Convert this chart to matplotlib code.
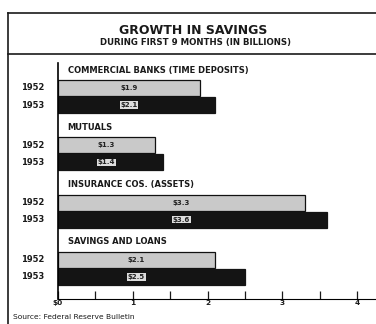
import matplotlib.pyplot as plt
from matplotlib.lines import Line2D
import numpy as np

# --------------------------------------------------------------------------------------------------
# Data (billions of dollars)
categories = ['COMMERCIAL BANKS (TIME DEPOSITS)', 'MUTUALS',
              'INSURANCE COS. (ASSETS)', 'SAVINGS AND LOANS']
years = ['1952', '1953']
savings_1952 = [1.9, 1.3, 3.3, 2.1]
savings_1953 = [2.1, 1.4, 3.6, 2.5]
labels_1952 = ['$1.9', '$1.3', '$3.3', '$2.1']
labels_1953 = ['$2.1', '$1.4', '$3.6', '$2.5']
xtick_values = [0, 1, 2, 3, 4]
xtick_labels = ['$0', '1', '2', '3', '4']

# --------------------------------------------------------------------------------------------------
W, H = 376, 324
fig = plt.figure(figsize=(W / 100, H / 100), dpi=100)
fig.patch.set_facecolor('white')

def fx(px):
    return px / W

def fy(py):
    return 1 - py / H

# Axes spans pixel x 58..376, y 60..300 ; y data in pixel units
x0, x1 = 58, 376
y_top, y_bot = 60, 299
ax = fig.add_axes([fx(x0), fy(y_bot), fx(x1 - x0), (y_bot - y_top) / H])
ax.set_xlim(0, (x1 - x0) / 74.8)
ax.set_ylim(y_bot, y_top)

group_start = 70.0
group_step = 57.3
bar_h = 16

for i, cat in enumerate(categories):
    g = group_start + i * group_step
    yc1 = g + 18
    yc2 = g + 35
    ax.text(0.13, g, cat, fontsize=6.0, fontweight='bold', va='center', ha='left',
            color='#1a1a1a')
    ax.barh(yc1, savings_1952[i], height=bar_h, color='#c9c9c9', edgecolor='#111111',
            linewidth=0.9)
    ax.barh(yc2, savings_1953[i], height=bar_h, color='#141414', edgecolor='#141414',
            linewidth=0.9)
    xl = savings_1952[i] / 2
    ax.text(xl, yc1, labels_1952[i], fontsize=5, fontweight='bold', ha='center',
            va='center', color='#222222')
    ax.text(xl, yc2, labels_1953[i], fontsize=5, fontweight='bold', ha='center',
            va='center', color='#222222',
            bbox=dict(boxstyle='square,pad=0.1', facecolor='#dddddd', edgecolor='none'))
    # year labels
    for yc, yr in zip([yc1, yc2], years):
        fig.text(fx(33), fy(yc), yr, fontsize=6.0, fontweight='bold', ha='center',
                 va='center', color='#1a1a1a')

# Axis styling
for s in ['top', 'right']:
    ax.spines[s].set_visible(False)
ax.spines['left'].set_bounds(y_bot, 63)
ax.spines['left'].set_linewidth(1.2)
ax.spines['bottom'].set_linewidth(0.8)
ax.set_yticks([])
ax.set_xticks(xtick_values)
ax.set_xticklabels(xtick_labels, fontsize=5.3, fontweight='bold')
ax.set_xticks(np.arange(0.5, 4.5, 1.0), minor=True)
ax.tick_params(axis='x', which='both', direction='in', length=5.5, width=0.9, pad=0.5,
               colors='#1a1a1a')

# Frame and header
frame_kw = dict(color='#1a1a1a', linewidth=1.2, transform=fig.transFigure)
fig.add_artist(Line2D([fx(8), 1], [fy(13), fy(13)], **frame_kw))
fig.add_artist(Line2D([fx(8), fx(8)], [fy(13), 0], **frame_kw))
fig.add_artist(Line2D([fx(8), 1], [fy(54), fy(54)], **frame_kw))

fig.text(fx(193), fy(30), 'GROWTH IN SAVINGS', fontsize=9, fontweight='bold',
         ha='center', va='center', color='#1a1a1a')
fig.text(fx(196), fy(43), 'DURING FIRST 9 MONTHS (IN BILLIONS)', fontsize=6.2,
         fontweight='bold', ha='center', va='center', color='#1a1a1a')
fig.text(fx(13), fy(317), 'Source: Federal Reserve Bulletin', fontsize=5.4,
         ha='left', va='center', color='#1a1a1a')

plt.savefig('out.png', dpi=100)
